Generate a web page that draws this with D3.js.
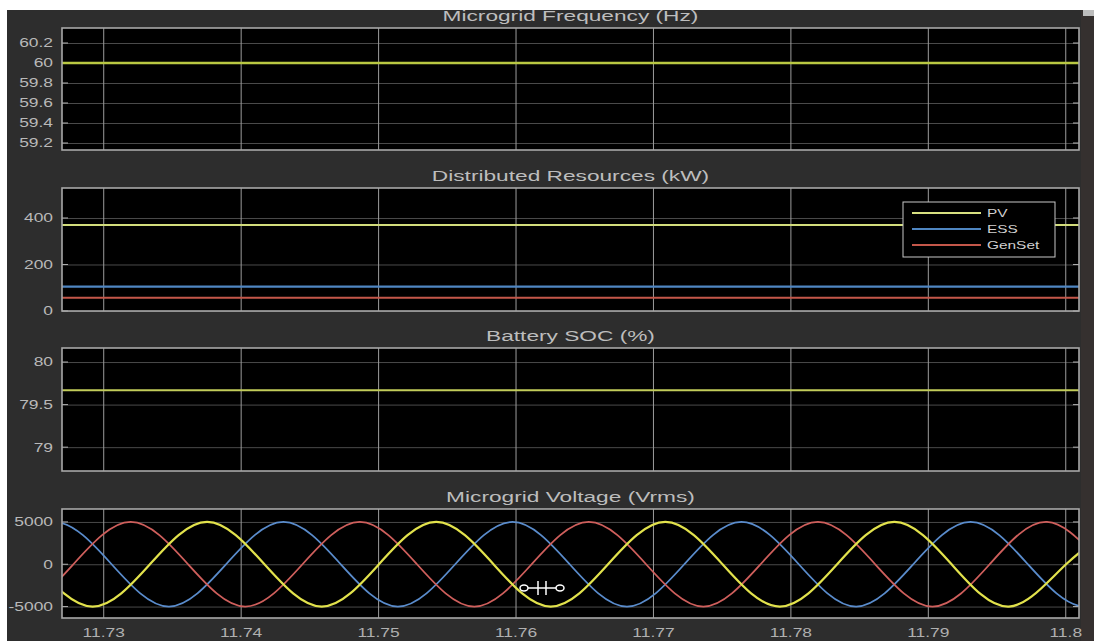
<!DOCTYPE html>
<html>
<head>
<meta charset="utf-8">
<script src="https://cdn.jsdelivr.net/npm/d3@7"></script>
<style>
  html, body { margin: 0; padding: 0; background: #ffffff; }
  svg { display: block; }
  text { font-family: "Liberation Sans", Arial, sans-serif; }
</style>
</head>
<body>
<svg id="chart" width="1094" height="641"></svg>
<script>
// ---- data ----
const timeSpan = [11.7270, 11.8010];
const timeTicks = [11.73, 11.74, 11.75, 11.76, 11.77, 11.78, 11.79, 11.80];
const timeTickLabels = ["11.73", "11.74", "11.75", "11.76", "11.77", "11.78", "11.79", "11.8"];

const freqTicks = [59.2, 59.4, 59.6, 59.8, 60, 60.2];
const freqTickLabels = ["59.2", "59.4", "59.6", "59.8", "60", "60.2"];
const freqHz = [60, 60];

const resourceNames = ["PV", "ESS", "GenSet"];
const powerTicks = [0, 200, 400];
const pvKW = [370, 370];
const essKW = [105, 105];
const gensetKW = [57, 57];

const socTicks = [79, 79.5, 80];
const socTickLabels = ["79", "79.5", "80"];
const socPct = [79.67, 79.67];

const voltTicks = [-5000, 0, 5000];
// phase voltages: extrema and zero crossings (s, V)
const phaseATime = [11.72506, 11.72923, 11.73340, 11.73756, 11.74173, 11.74590, 11.75006, 11.75423, 11.75840, 11.76256,
                    11.76673, 11.77090, 11.77506, 11.77923, 11.78340, 11.78756, 11.79173, 11.79590, 11.80006, 11.80423];
const phaseAVolt = [0, -5000, 0, 5000, 0, -5000, 0, 5000, 0, -5000,
                    0, 5000, 0, -5000, 0, 5000, 0, -5000, 0, 5000];
const phaseBTime = [11.72228, 11.72644, 11.73061, 11.73478, 11.73894, 11.74311, 11.74728, 11.75144, 11.75561, 11.75978,
                    11.76394, 11.76811, 11.77228, 11.77644, 11.78061, 11.78478, 11.78894, 11.79311, 11.79728, 11.80144, 11.80561];
const phaseBVolt = [0, 5000, 0, -5000, 0, 5000, 0, -5000, 0, 5000,
                    0, -5000, 0, 5000, 0, -5000, 0, 5000, 0, -5000, 0];
const phaseCTime = [11.71950, 11.72367, 11.72783, 11.73200, 11.73617, 11.74033, 11.74450, 11.74867, 11.75283, 11.75700,
                    11.76117, 11.76533, 11.76950, 11.77367, 11.77783, 11.78200, 11.78617, 11.79033, 11.79450, 11.79867, 11.80283, 11.80700];
const phaseCVolt = [0, -5000, 0, 5000, 0, -5000, 0, 5000, 0, -5000,
                    0, 5000, 0, -5000, 0, 5000, 0, -5000, 0, 5000, 0, -5000];

// ---- layout ----
const svg = d3.select("#chart");
const W = 1094, H = 641;
const plotLeft = 62, plotRight = 1079;
const TEXT_STRETCH = 1.45;

svg.append("rect").attr("x", 7).attr("y", 10).attr("width", W - 7).attr("height", H - 10).attr("fill", "#2d2d2d");
svg.append("rect").attr("x", 1081).attr("y", 10).attr("width", 13).attr("height", H - 10).attr("fill", "#35302f");
svg.append("rect").attr("x", 1083).attr("y", 10).attr("width", 11).attr("height", 6).attr("fill", "#bdbdbd");

const x = d3.scaleLinear().domain(timeSpan).range([plotLeft, plotRight]);

function stretch(sel, k) {
  sel.each(function () {
    const w = this.getComputedTextLength();
    d3.select(this).attr("textLength", w * k).attr("lengthAdjust", "spacingAndGlyphs");
  });
}

function panel(cfg) {
  const y = d3.scaleLinear().domain(cfg.domain).range([cfg.bottom, cfg.top]);
  const g = svg.append("g");
  const clipId = "clip" + cfg.id;
  svg.append("clipPath").attr("id", clipId).append("rect")
    .attr("x", plotLeft).attr("y", cfg.top).attr("width", plotRight - plotLeft).attr("height", cfg.bottom - cfg.top);

  g.append("rect").attr("x", plotLeft).attr("y", cfg.top)
    .attr("width", plotRight - plotLeft).attr("height", cfg.bottom - cfg.top).attr("fill", "#000");

  // horizontal grid
  const yAxis = d3.axisLeft(y).tickValues(cfg.ticks).tickSize(-(plotRight - plotLeft))
    .tickFormat((d, i) => cfg.labels ? cfg.labels[i] : String(d)).tickPadding(9);
  const ya = g.append("g").attr("transform", `translate(${plotLeft},0)`).call(yAxis);
  ya.select(".domain").remove();
  ya.selectAll("line").attr("stroke", "#4a4a4a").attr("stroke-width", 1);
  ya.selectAll("text").attr("fill", "#b9b9b9").attr("font-size", 12).call(stretch, TEXT_STRETCH);

  // vertical grid
  const xAxis = d3.axisBottom(x).tickValues(timeTicks).tickSize(-(cfg.bottom - cfg.top))
    .tickFormat((d, i) => cfg.showX ? timeTickLabels[i] : "").tickPadding(10);
  const xa = g.append("g").attr("transform", `translate(0,${cfg.bottom})`).call(xAxis);
  xa.select(".domain").remove();
  xa.selectAll("line").attr("stroke", "#9c9c9c").attr("stroke-width", 1);
  xa.selectAll("text").attr("fill", "#b0b0b0").attr("font-size", 12).call(stretch, TEXT_STRETCH);

  // small tick marks on the left/right edges
  g.selectAll(".ltick").data(cfg.ticks).join("line")
    .attr("x1", plotLeft).attr("x2", plotLeft + 6).attr("y1", d => y(d)).attr("y2", d => y(d))
    .attr("stroke", "#b0b0b0");
  g.selectAll(".rtick").data(cfg.ticks).join("line")
    .attr("x1", plotRight - 6).attr("x2", plotRight).attr("y1", d => y(d)).attr("y2", d => y(d))
    .attr("stroke", "#b0b0b0");

  const lines = g.append("g").attr("clip-path", `url(#${clipId})`);
  const line = d3.line().x(d => x(d[0])).y(d => y(d[1])).curve(cfg.curve || d3.curveLinear);
  cfg.series.forEach(s => {
    lines.append("path").datum(d3.zip(s.t, s.v)).attr("d", line)
      .attr("fill", "none").attr("stroke", s.color).attr("stroke-width", s.width || 2);
  });

  g.append("rect").attr("x", plotLeft).attr("y", cfg.top)
    .attr("width", plotRight - plotLeft).attr("height", cfg.bottom - cfg.top)
    .attr("fill", "none").attr("stroke", "#a8a8a8").attr("stroke-width", 1.6);

  const title = g.append("text").attr("x", (plotLeft + plotRight) / 2).attr("y", cfg.top - 7)
    .attr("text-anchor", "middle").attr("fill", "#bdbdbd").attr("font-size", 14).text(cfg.title);
  title.call(stretch, 1.62);
  return { g, y };
}

panel({
  id: 1, top: 28, bottom: 150, domain: [59.13, 60.35], ticks: freqTicks, labels: freqTickLabels,
  title: "Microgrid Frequency (Hz)",
  series: [{ t: timeSpan, v: freqHz, color: "#b9c842", width: 2.4 }]
});

const p2 = panel({
  id: 2, top: 188, bottom: 311, domain: [0, 529], ticks: powerTicks,
  title: "Distributed Resources (kW)",
  series: [
    { t: timeSpan, v: pvKW, color: "#d2dc7c", width: 2 },
    { t: timeSpan, v: essKW, color: "#4f86c2", width: 2.2 },
    { t: timeSpan, v: gensetKW, color: "#c4574a", width: 2.2 }
  ]
});

// legend
const legendColors = ["#d8e080", "#4f86c2", "#c4574a"];
const lg = p2.g.append("g").attr("transform", "translate(903,202)");
lg.append("rect").attr("width", 152).attr("height", 55).attr("fill", "#000")
  .attr("stroke", "#c8c8c8").attr("stroke-width", 1);
resourceNames.forEach((name, i) => {
  const yy = 11 + i * 16;
  lg.append("line").attr("x1", 9).attr("x2", 78).attr("y1", yy).attr("y2", yy)
    .attr("stroke", legendColors[i]).attr("stroke-width", 1.8);
  lg.append("text").attr("x", 84).attr("y", yy + 4).attr("fill", "#d0d0d0")
    .attr("font-size", 11).text(name).call(stretch, 1.4);
});

panel({
  id: 3, top: 348, bottom: 471, domain: [78.72, 80.165], ticks: socTicks, labels: socTickLabels,
  title: "Battery SOC (%)",
  series: [{ t: timeSpan, v: socPct, color: "#c2cc5a", width: 2 }]
});

const p4 = panel({
  id: 4, top: 509, bottom: 618, domain: [-6350, 6530], ticks: voltTicks, showX: true,
  title: "Microgrid Voltage (Vrms)", curve: d3.curveNatural,
  series: [
    { t: phaseBTime, v: phaseBVolt, color: "#5a8ccc", width: 1.8 },
    { t: phaseCTime, v: phaseCVolt, color: "#cf5f5c", width: 1.8 },
    { t: phaseATime, v: phaseAVolt, color: "#e2e24c", width: 2.2 }
  ]
});

// data cursor glyph
const cur = svg.append("g").attr("transform", "translate(542,588)")
  .attr("stroke", "#ffffff").attr("fill", "none").attr("stroke-width", 1.5);
cur.append("line").attr("x1", -19).attr("x2", 19).attr("y1", 0).attr("y2", 0);
cur.append("ellipse").attr("cx", -18).attr("cy", 0).attr("rx", 4).attr("ry", 3).attr("fill", "#000");
cur.append("ellipse").attr("cx", 18).attr("cy", 0).attr("rx", 4).attr("ry", 3).attr("fill", "#000");
cur.append("line").attr("x1", -4).attr("x2", -4).attr("y1", -7).attr("y2", 7);
cur.append("line").attr("x1", 4).attr("x2", 4).attr("y1", -7).attr("y2", 7);
</script>
</body>
</html>
